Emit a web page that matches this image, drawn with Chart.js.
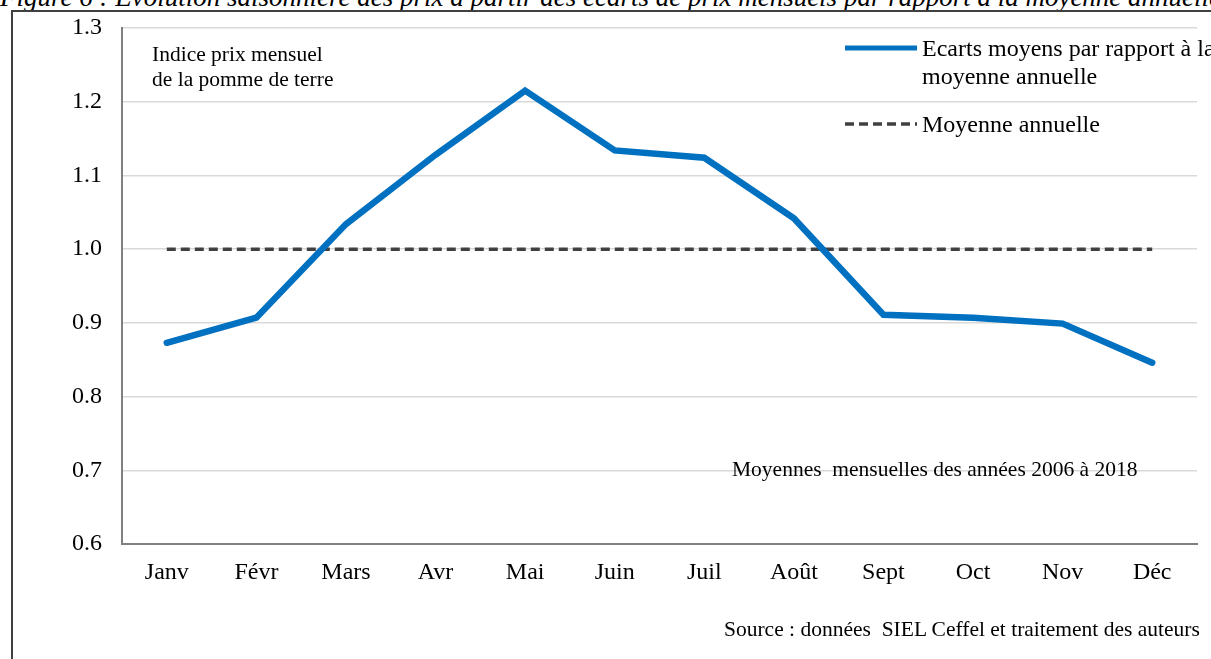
<!DOCTYPE html>
<html>
<head>
<meta charset="utf-8">
<script src="https://cdn.jsdelivr.net/npm/chart.js@4"></script>
<style>
    html, body { margin: 0; padding: 0; background: #fff; overflow: hidden; }
    body { width: 1211px; height: 659px; position: relative; font-family: "Liberation Serif", "Times New Roman", serif; color: #000; }
    #title { position: absolute; left: 0; top: -16px; font-size: 27px; line-height: 27px; font-style: italic; white-space: nowrap; }
    #frame { position: absolute; left: 11px; top: 10px; width: 1400px; height: 900px; border-left: 2px solid #404040; border-top: 2px solid #404040; }
    #wrap { position: absolute; left: 0; top: 0; width: 1211px; height: 659px; }
    .note { position: absolute; white-space: pre; font-size: 21.5px; line-height: 25px; }
    .leg { position: absolute; white-space: pre; font-size: 24px; line-height: 28px; }
    svg { position: absolute; overflow: visible; }
</style>
</head>
<body>
<div id="title">Figure 6 : Evolution saisonnière des prix à partir des écarts de prix mensuels par rapport à la moyenne annuelle</div>
<div id="frame"></div>
<div id="wrap"><canvas id="priceChart" width="1211" height="659"></canvas></div>

<div class="note" style="left:152px; top:42px;">Indice prix mensuel
de la pomme de terre</div>

<svg style="left:845px; top:48px;" width="72" height="2"><line x1="0" y1="0" x2="72" y2="0" stroke="#0070C0" stroke-width="5"/></svg>
<div class="leg" style="left:922px; top:34px;">Ecarts moyens par rapport à la
moyenne annuelle</div>
<svg style="left:845px; top:124px;" width="72" height="2"><line x1="0" y1="0" x2="72" y2="0" stroke="#404040" stroke-width="3.5" stroke-dasharray="9,5"/></svg>
<div class="leg" style="left:922px; top:110px;">Moyenne annuelle</div>

<div class="note" style="left:732px; top:457px;">Moyennes  mensuelles des années 2006 à 2018</div>
<div class="note" style="left:724px; top:617px;">Source : données  SIEL Ceffel et traitement des auteurs</div>

<script>
// monthly price index of potatoes
const months = ["Janv", "Févr", "Mars", "Avr", "Mai", "Juin", "Juil", "Août", "Sept", "Oct", "Nov", "Déc"];
const ecarts = [0.873, 0.907, 1.034, 1.128, 1.215, 1.134, 1.124, 1.042, 0.911, 0.907, 0.899, 0.846];
const moyenne = [1, 1, 1, 1, 1, 1, 1, 1, 1, 1, 1, 1];
const yTicks = [0.6, 0.7, 0.8, 0.9, 1.0, 1.1, 1.2, 1.3];

document.addEventListener("DOMContentLoaded", function () {
    const ctx = document.getElementById("priceChart").getContext("2d");
    const tickFont = { family: "'Liberation Serif', 'Times New Roman', serif", size: 24 };

    new Chart(ctx, {
        type: "line",
        data: {
            labels: months,
            datasets: [{
                label: "Ecarts moyens par rapport à la moyenne annuelle",
                data: ecarts,
                borderColor: "#0070C0",
                borderWidth: 6.5,
                borderCapStyle: "round",
                pointRadius: 0,
                tension: 0,
                fill: false
            }, {
                label: "Moyenne annuelle",
                data: moyenne,
                borderColor: "#404040",
                borderWidth: 3.5,
                borderDash: [9, 5],
                pointRadius: 0,
                tension: 0,
                fill: false
            }]
        },
        options: {
            responsive: false,
            animation: false,
            layout: {
                padding: { top: 28, right: 14, left: 0, bottom: 0 }
            },
            plugins: {
                legend: { display: false },
                tooltip: { enabled: false }
            },
            scales: {
                x: {
                    offset: true,
                    grid: { display: false, drawTicks: false },
                    border: { display: true, color: "#808080", width: 2 },
                    ticks: { font: tickFont, color: "#000", padding: 14, maxRotation: 0 },
                    afterFit: function (scale) { scale.height = 115; }
                },
                y: {
                    min: 0.6,
                    max: 1.3,
                    afterBuildTicks: function (scale) {
                        scale.ticks = yTicks.map(function (v) { return { value: v }; });
                    },
                    grid: { color: "#d9d9d9", lineWidth: 1.5, drawTicks: false },
                    border: { display: true, color: "#808080", width: 2 },
                    ticks: {
                        font: tickFont,
                        color: "#000",
                        padding: 20,
                        callback: function (v) { return v.toFixed(1); }
                    },
                    afterFit: function (scale) {
                        scale.width = 122;
                        // let the layout padding decide where the plot starts
                        scale.paddingTop = 0;
                        scale.paddingBottom = 0;
                    }
                }
            }
        }
    });
});
</script>
</body>
</html>
